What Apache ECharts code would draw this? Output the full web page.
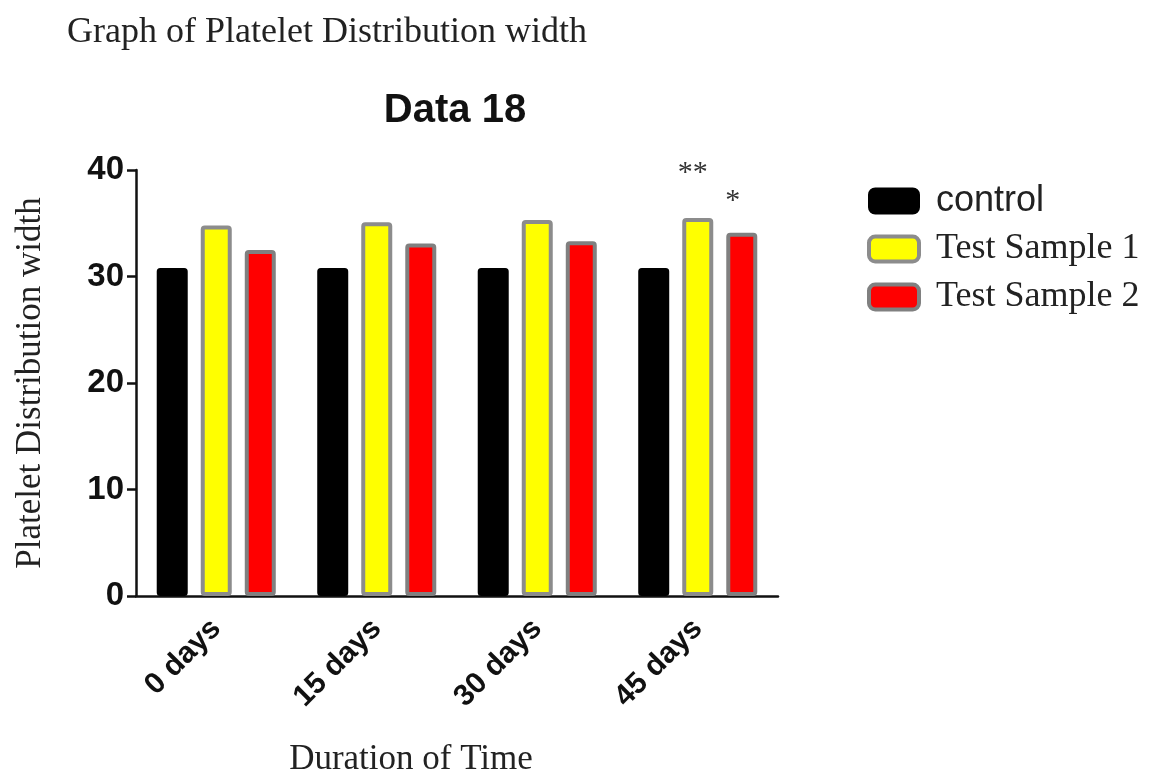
<!DOCTYPE html>
<html>
<head>
<meta charset="utf-8">
<script src="https://cdn.jsdelivr.net/npm/echarts@6/dist/echarts.min.js"></script>
<style>html,body{margin:0;padding:0;background:#fff;}#c{width:1153px;height:778px;}</style>
</head>
<body>
<div id="c"></div>
<script>
const categories = ['0 days', '15 days', '30 days', '45 days'];
const control = [30.8, 30.8, 30.8, 30.8];
const testSample1 = [34.8, 35.1, 35.3, 35.5];
const testSample2 = [32.5, 33.1, 33.3, 34.1];
const sig1 = ['', '', '', '**'];
const sig2 = ['', '', '', '*'];
const yTicks = [0, 10, 20, 30, 40];

const chart = echarts.init(document.getElementById('c'));
const serif = '"Liberation Serif", "DejaVu Serif", serif';
const sans = '"Liberation Sans", Arial, sans-serif';

function withSig(vals, sig, dist, dx) {
  return vals.map((v, i) => sig[i] ? {
    value: v,
    label: { show: true, position: 'top', distance: dist, offset: [dx, 0], formatter: sig[i],
      fontFamily: serif, fontSize: 30, color: '#333' }
  } : v);
}

chart.setOption({
  animation: false,
  title: [
    { text: 'Graph of Platelet Distribution width', left: 62, top: 10,
      textStyle: { fontFamily: serif, fontWeight: 'normal', fontSize: 36, color: '#222' } },
    { text: 'Data 18', left: 450, top: 86, textAlign: 'center',
      textStyle: { fontFamily: sans, fontWeight: 'bold', fontSize: 40, color: '#111' } }
  ],
  legend: {
    left: 862, top: 178, orient: 'vertical', itemWidth: 50, itemHeight: 25, itemGap: 12,
    icon: 'roundRect',
    data: [
      { name: 'control', textStyle: { fontFamily: sans, fontSize: 36, color: '#222' } },
      { name: 'Test Sample 1', textStyle: { fontFamily: serif, fontSize: 36, color: '#222' },
        itemStyle: { borderWidth: 4, borderColor: '#8c8c8c' } },
      { name: 'Test Sample 2', textStyle: { fontFamily: serif, fontSize: 36, color: '#222' },
        itemStyle: { borderWidth: 4, borderColor: '#808080' } }
    ],
    textStyle: { padding: [0, 0, 0, 12] }
  },
  grid: { left: 136, right: 375, top: 170, bottom: 182, containLabel: false, outerBoundsMode: 'none' },
  xAxis: {
    type: 'category', data: categories,
    name: 'Duration of Time', nameLocation: 'middle', nameGap: 146,
    nameTextStyle: { fontFamily: serif, fontSize: 35, color: '#222', padding: [0, 92, 0, 0] },
    axisLine: { lineStyle: { color: '#111', width: 2.5 } },
    axisTick: { alignWithLabel: true, length: 10, lineStyle: { color: '#111', width: 2.5 } },
    axisLabel: { rotate: 45, fontFamily: sans, fontWeight: 'bold', fontSize: 30, color: '#111', margin: 28 }
  },
  yAxis: {
    type: 'value', min: 0, max: 40, interval: 10,
    name: 'Platelet Distribution width', nameLocation: 'middle', nameGap: 88,
    nameTextStyle: { fontFamily: serif, fontSize: 35, color: '#222' },
    axisLine: { show: true, lineStyle: { color: '#111', width: 2.5 } },
    axisTick: { show: true, length: 9, lineStyle: { color: '#111', width: 2.5 } },
    splitLine: { show: false },
    axisLabel: { fontFamily: sans, fontWeight: 'bold', fontSize: 33, color: '#111', margin: 12,
      formatter: v => yTicks.includes(v) ? String(v) : '' }
  },
  series: [
    { name: 'control', type: 'bar', data: control, barWidth: 31, barGap: '42%',
      itemStyle: { color: '#000', borderColor: '#000', borderWidth: 3, borderRadius: 2 } },
    { name: 'Test Sample 1', type: 'bar', data: withSig(testSample1, sig1, 30, -5), barWidth: 31,
      itemStyle: { color: '#ffff00', borderColor: '#8c8c8c', borderWidth: 4, borderRadius: 2 } },
    { name: 'Test Sample 2', type: 'bar', data: withSig(testSample2, sig2, 17, -9), barWidth: 31,
      itemStyle: { color: '#ff0000', borderColor: '#808080', borderWidth: 4, borderRadius: 2 } }
  ]
});
</script>
</body>
</html>
